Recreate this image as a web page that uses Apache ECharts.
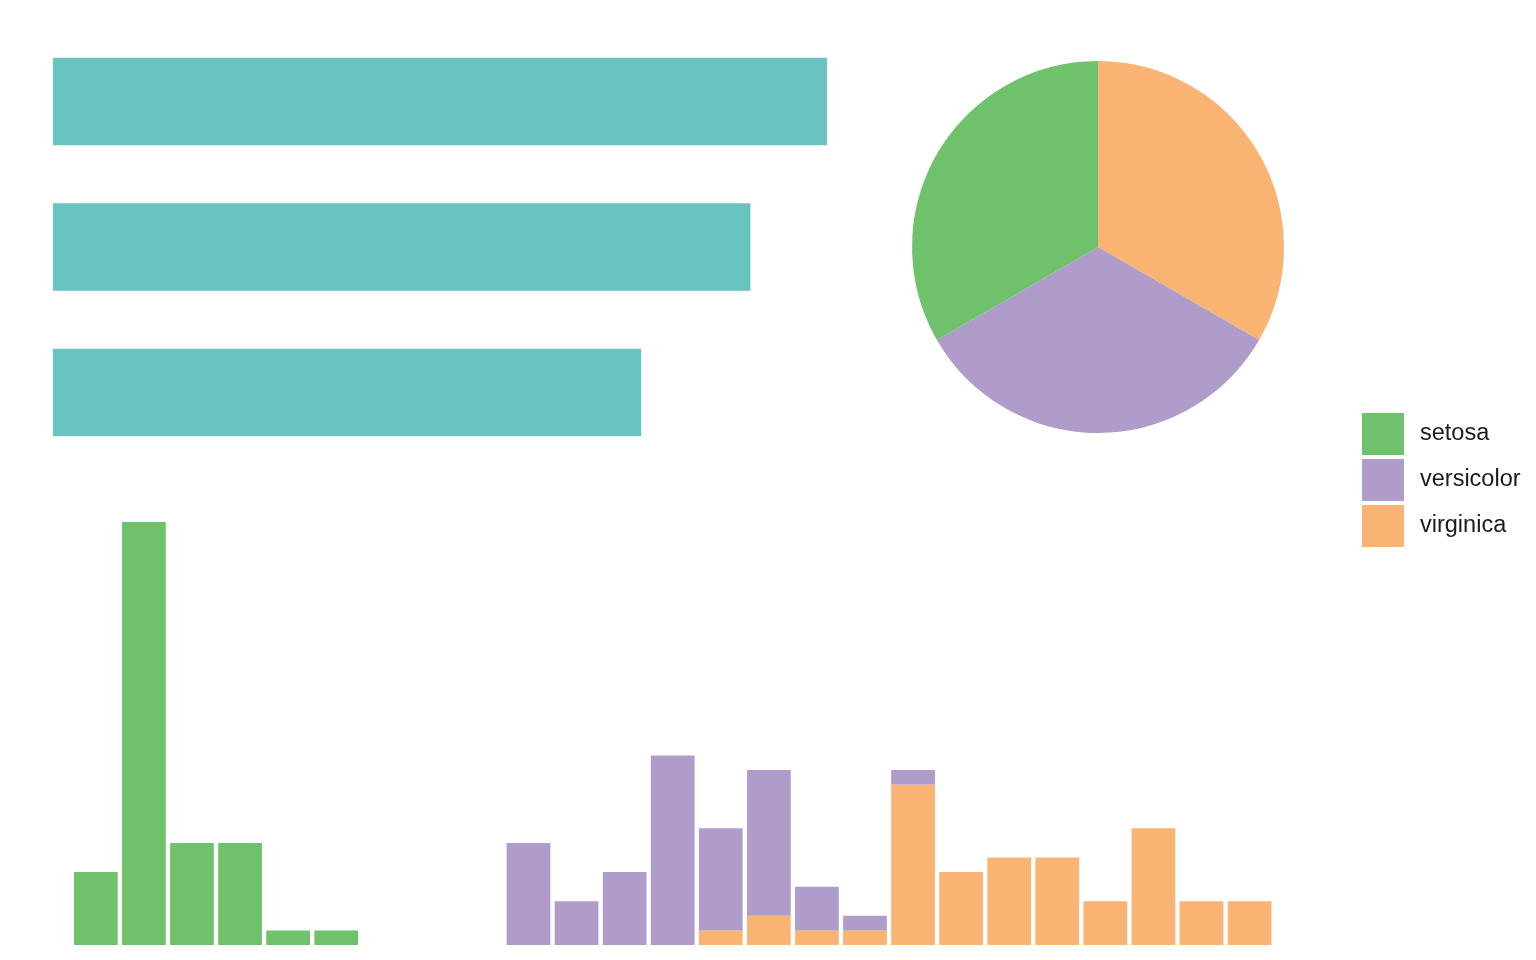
<!DOCTYPE html>
<html lang="en">
<head>
    <meta charset="utf-8">
    <title>iris</title>
    <script src="https://cdn.jsdelivr.net/npm/echarts@6/dist/echarts.min.js"></script>
    <style>
        html, body { margin: 0; padding: 0; background: #fff; }
        #main { width: 1536px; height: 960px; }
    </style>
</head>
<body>
    <div id="main"></div>

    <script type="text/javascript">

    // species and colours
    var species = ['setosa', 'versicolor', 'virginica'];
    var colors = { setosa: '#70C16B', versicolor: '#B09CCA', virginica: '#F9B473' };

    // mean sepal length per species (top-left bars)
    var meanSepal = [5.006, 5.936, 6.588];

    // pie: counts per species
    var counts = [50, 50, 50];

    // petal length histogram, bin centres and counts per species
    var bins = ['1.00','1.25','1.49','1.74','1.98','2.23','2.47','2.72','2.97','3.21','3.46','3.70','3.95',
                '4.20','4.44','4.69','4.93','5.18','5.43','5.67','5.92','6.16','6.41','6.65','6.90'];
    var histSetosa     = [5, 29, 7, 7, 1, 1, 0, 0, 0, 0, 0, 0, 0, 0, 0, 0, 0, 0, 0, 0, 0, 0, 0, 0, 0];
    var histVersicolor = [0, 0, 0, 0, 0, 0, 0, 0, 0, 7, 3, 5, 13, 7, 10, 3, 1, 1, 0, 0, 0, 0, 0, 0, 0];
    var histVirginica  = [0, 0, 0, 0, 0, 0, 0, 0, 0, 0, 0, 0, 0, 1, 2, 1, 1, 11, 5, 6, 6, 3, 8, 3, 3];

    var myChart = echarts.init(document.getElementById('main'), null, { renderer: 'canvas' });

    myChart.setOption({
        animation: false,
        backgroundColor: '#fff',
        legend: {
            data: species,
            orient: 'vertical',
            left: 1362,
            top: 413,
            padding: 0,
            itemWidth: 42,
            itemHeight: 42,
            itemGap: 4,
            icon: 'rect',
            selectedMode: false,
            textStyle: {
                fontFamily: 'Liberation Sans, Arial, sans-serif',
                fontSize: 23.5,
                color: '#1a1a1a',
                padding: [5, 0, 0, 11]
            }
        },
        grid: [
            { left: 53, top: 28.75, width: 774, height: 436.5 },
            { left: 71.8, top: 522, width: 1201.8, height: 423 }
        ],
        xAxis: [
            { gridIndex: 0, type: 'value', min: 0, max: 6.588, show: false },
            { gridIndex: 1, type: 'category', data: bins, show: false }
        ],
        yAxis: [
            { gridIndex: 0, type: 'category', data: species, show: false },
            { gridIndex: 1, type: 'value', min: 0, max: 29, show: false }
        ],
        series: [
            {
                name: 'mean',
                type: 'bar',
                xAxisIndex: 0,
                yAxisIndex: 0,
                data: meanSepal,
                barCategoryGap: '40%',
                itemStyle: { color: '#69C3C1' },
                silent: true
            },
            {
                name: 'pie',
                type: 'pie',
                center: [1098, 247],
                radius: 186,
                startAngle: 90,
                clockwise: true,
                label: { show: false },
                labelLine: { show: false },
                silent: true,
                data: [
                    { name: 'virginica', value: counts[2], itemStyle: { color: colors.virginica } },
                    { name: 'versicolor', value: counts[1], itemStyle: { color: colors.versicolor } },
                    { name: 'setosa', value: counts[0], itemStyle: { color: colors.setosa } }
                ]
            },
            {
                name: 'virginica',
                type: 'bar',
                xAxisIndex: 1,
                yAxisIndex: 1,
                stack: 'hist',
                data: histVirginica,
                barCategoryGap: '9%',
                itemStyle: { color: colors.virginica },
                silent: true
            },
            {
                name: 'versicolor',
                type: 'bar',
                xAxisIndex: 1,
                yAxisIndex: 1,
                stack: 'hist',
                data: histVersicolor,
                barCategoryGap: '9%',
                itemStyle: { color: colors.versicolor },
                silent: true
            },
            {
                name: 'setosa',
                type: 'bar',
                xAxisIndex: 1,
                yAxisIndex: 1,
                stack: 'hist',
                data: histSetosa,
                barCategoryGap: '9%',
                itemStyle: { color: colors.setosa },
                silent: true
            }
        ]
    });

    </script>
</body>
</html>
